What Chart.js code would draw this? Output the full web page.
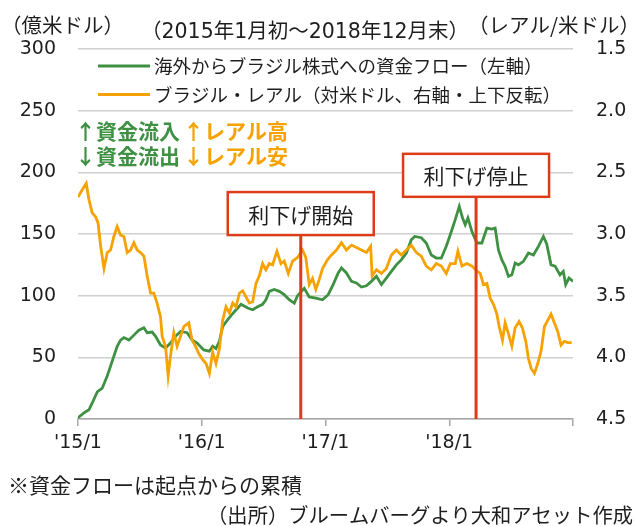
<!DOCTYPE html>
<html>
<head>
<meta charset="utf-8">
<script src="https://cdn.jsdelivr.net/npm/chart.js@4.4.1/dist/chart.umd.min.js"></script>
<style>
  html, body { margin: 0; padding: 0; background: #fff; }
  #wrap { width: 635px; height: 526px; position: relative; }
</style>
</head>
<body>
<div id="wrap"><canvas id="chart" width="635" height="526"></canvas></div>
<script>
'use strict'

// x values are months elapsed since the start of Jan 2015
const flowMonths = [0, 0.58, 1.06, 1.38, 1.87, 2.35, 2.84, 3.16, 3.48, 3.8, 4.13, 4.45, 4.94, 5.42, 5.9, 6.39, 6.71, 7.19, 7.52, 8.0, 8.49, 8.97, 9.45, 9.94, 10.58, 11.06, 11.55, 12.19, 12.74, 13.06, 13.38, 13.71, 14.03, 14.52, 15.16, 15.81, 16.45, 16.94, 17.42, 17.9, 18.22, 18.55, 19.03, 19.52, 20.0, 20.48, 20.97, 21.29, 21.94, 22.42, 23.06, 23.71, 24.26, 24.74, 25.23, 25.55, 26.03, 26.52, 27.0, 27.48, 27.97, 28.45, 28.94, 29.42, 29.9, 30.39, 30.87, 31.35, 31.84, 32.32, 32.65, 33.29, 33.77, 34.26, 34.74, 35.23, 35.71, 36.1, 36.58, 36.97, 37.29, 37.55, 37.81, 38.2, 38.68, 39.16, 39.65, 40.13, 40.45, 40.77, 41.1, 41.42, 41.74, 42.07, 42.39, 42.71, 43.19, 43.68, 44.16, 44.65, 45.13, 45.45, 45.87, 46.26, 46.74, 47.06, 47.29, 47.61, 48.0]
const flowValues = [1, 5, 7.5, 13, 22, 25, 35, 43, 51, 59, 64, 66, 64, 68, 72, 74, 70, 70.5, 67, 60, 57.5, 61.6, 67, 71, 70, 64, 61.6, 56, 55, 59, 57, 63, 75, 80.5, 87, 93, 90, 88.6, 91, 93, 96.7, 103.5, 105, 103.5, 100.8, 96.7, 94, 100, 106, 99, 98, 96.7, 100.8, 109, 118.4, 122.4, 118.4, 111.6, 110.3, 107, 108, 111.6, 115.7, 109, 114.3, 119.7, 125, 129, 134.6, 145.4, 148, 147, 142.7, 133, 130.5, 130.5, 140, 149.4, 161.6, 172.4, 163, 157.5, 163, 152, 142.7, 142.7, 154.8, 154, 154.8, 137, 129, 123.7, 115.6, 116.9, 126.5, 125, 127.8, 134.6, 133, 140, 148, 142, 125, 124, 116.9, 119.7, 109, 114.3, 111.6]

const brlMonths = [0, 0.42, 0.8, 1.06, 1.38, 1.71, 1.94, 2.2, 2.52, 2.84, 3.16, 3.48, 3.8, 4.13, 4.45, 4.77, 5.1, 5.42, 5.74, 6.07, 6.39, 6.71, 7.04, 7.35, 7.67, 8.0, 8.16, 8.49, 8.74, 8.97, 9.29, 9.61, 9.94, 10.26, 10.74, 11.06, 11.39, 11.71, 12.1, 12.42, 12.74, 13.06, 13.38, 13.71, 14.03, 14.35, 14.68, 15.0, 15.32, 15.65, 15.97, 16.29, 16.62, 16.94, 17.26, 17.58, 17.9, 18.22, 18.55, 18.87, 19.29, 19.68, 20.0, 20.39, 20.81, 21.29, 21.77, 22.09, 22.42, 22.74, 23.06, 23.39, 23.71, 24.19, 24.58, 25.06, 25.55, 26.03, 26.52, 27.0, 27.48, 27.97, 28.38, 28.52, 28.94, 29.42, 29.9, 30.39, 30.87, 31.35, 31.84, 32.32, 32.81, 33.29, 33.77, 34.26, 34.74, 35.23, 35.71, 36.1, 36.58, 36.84, 37.23, 37.71, 38.2, 38.68, 39.0, 39.32, 39.65, 39.97, 40.29, 40.62, 40.84, 41.16, 41.42, 41.74, 42.07, 42.39, 42.77, 43.09, 43.42, 43.68, 43.94, 44.26, 44.58, 44.9, 45.23, 45.55, 45.87, 46.19, 46.52, 46.84, 47.16, 47.48, 47.87]
const brlValues = [2.70, 2.64, 2.59, 2.72, 2.83, 2.86, 2.91, 3.10, 3.28, 3.15, 3.13, 3.02, 2.94, 3.01, 3.02, 3.15, 3.13, 3.07, 3.13, 3.15, 3.18, 3.34, 3.48, 3.48, 3.56, 3.67, 3.83, 3.91, 4.15, 3.99, 3.80, 3.91, 3.83, 3.75, 3.72, 3.86, 3.91, 3.97, 4.02, 4.05, 4.13, 3.96, 4.05, 3.93, 3.70, 3.59, 3.64, 3.56, 3.59, 3.48, 3.46, 3.51, 3.56, 3.55, 3.40, 3.34, 3.24, 3.29, 3.24, 3.25, 3.14, 3.24, 3.22, 3.32, 3.22, 3.19, 3.13, 3.19, 3.41, 3.36, 3.45, 3.37, 3.28, 3.21, 3.17, 3.13, 3.07, 3.13, 3.09, 3.11, 3.13, 3.15, 3.10, 3.34, 3.29, 3.32, 3.28, 3.17, 3.13, 3.17, 3.13, 3.09, 3.15, 3.18, 3.26, 3.29, 3.24, 3.26, 3.32, 3.24, 3.24, 3.14, 3.26, 3.24, 3.26, 3.30, 3.32, 3.41, 3.40, 3.52, 3.57, 3.65, 3.75, 3.86, 3.72, 3.81, 3.91, 3.76, 3.71, 3.76, 3.87, 4.01, 4.09, 4.13, 4.05, 3.95, 3.75, 3.70, 3.65, 3.72, 3.79, 3.90, 3.87, 3.88, 3.88]

const xTickLabels = ["'15/1", "'16/1", "'17/1", "'18/1", '']
const eventMonths = [21.6, 38.6]
const eventLabels = ['利下げ開始', '利下げ停止']

const GREEN = '#3e9142'
const ORANGE = '#f5a202'
const RED = '#dc3c18'
const TEXT = '#1e1e1e'
const NUM_FONT = '"DejaVu Sans", "Noto Sans CJK JP", sans-serif'
const JP_FONT = '"Noto Sans CJK JP", sans-serif'

function toPoints (xs, ys) {
  return xs.map((x, i) => ({ x, y: ys[i] }))
}

const decor = {
  id: 'decor',
  afterDatasetsDraw (chart) {
    const { ctx, chartArea } = chart
    const xs = chart.scales.x
    const ys = chart.scales.y
    // event markers: red line up to a labelled box
    const boxTops = [184, 215]
    ctx.save()
    eventMonths.forEach((m, i) => {
      const px = xs.getPixelForValue(m)
      const top = ys.getPixelForValue(boxTops[i])
      const w = 146
      const h = 43
      ctx.strokeStyle = RED
      ctx.lineWidth = 3
      ctx.beginPath()
      ctx.moveTo(px, top + h)
      ctx.lineTo(px, chartArea.bottom)
      ctx.stroke()
      ctx.fillStyle = '#fff'
      ctx.fillRect(px - w / 2, top, w, h)
      ctx.lineWidth = 2.5
      ctx.strokeRect(px - w / 2, top, w, h)
      ctx.fillStyle = TEXT
      ctx.font = '21px ' + JP_FONT
      ctx.textAlign = 'center'
      ctx.textBaseline = 'middle'
      ctx.fillText(eventLabels[i], px, top + h / 2 + 1)
    })
    ctx.restore()
  },
  afterDraw (chart) {
    const { ctx } = chart
    ctx.save()
    ctx.textBaseline = 'middle'
    ctx.fillStyle = TEXT

    ctx.font = '20.5px ' + JP_FONT
    ctx.textAlign = 'left'
    ctx.fillText('（億米ドル）', 1, 25)
    ctx.textAlign = 'right'
    ctx.fillText('（レアル/米ドル）', 640, 25)
    ctx.font = '20.5px ' + NUM_FONT
    ctx.textAlign = 'center'
    ctx.fillText('（2015年1月初～2018年12月末）', 305, 33)

    // legend
    const rows = [66, 94.5]
    ctx.font = '18.5px ' + JP_FONT
    ctx.textAlign = 'left'
    chart.data.datasets.slice().reverse().forEach((ds, i) => {
      ctx.strokeStyle = ds.borderColor
      ctx.lineWidth = 3
      ctx.beginPath()
      ctx.moveTo(98, rows[i])
      ctx.lineTo(150, rows[i])
      ctx.stroke()
      ctx.fillStyle = TEXT
      ctx.fillText(ds.label, 154, rows[i])
    })

    // direction hints
    ctx.font = 'bold 21px ' + JP_FONT
    ctx.fillStyle = GREEN
    ctx.fillText('↑資金流入', 75, 131)
    ctx.fillText('↓資金流出', 75, 156)
    ctx.fillStyle = ORANGE
    ctx.fillText('↑レアル高', 183, 131)
    ctx.fillText('↓レアル安', 183, 156)

    // notes
    ctx.fillStyle = TEXT
    ctx.font = '21px ' + JP_FONT
    ctx.fillText('※資金フローは起点からの累積', 8, 485)
    ctx.font = '20.3px ' + JP_FONT
    ctx.textAlign = 'right'
    ctx.fillText('（出所）ブルームバーグより大和アセット作成', 633, 515)
    ctx.restore()
  }
}

new Chart(document.getElementById('chart'), {
  type: 'line',
  data: {
    datasets: [
      {
        label: 'ブラジル・レアル（対米ドル、右軸・上下反転）',
        data: toPoints(brlMonths, brlValues),
        yAxisID: 'y2',
        borderColor: ORANGE,
        borderWidth: 2.8,
        pointRadius: 0,
        tension: 0
      },
      {
        label: '海外からブラジル株式への資金フロー（左軸）',
        data: toPoints(flowMonths, flowValues),
        yAxisID: 'y',
        borderColor: GREEN,
        borderWidth: 2.8,
        pointRadius: 0,
        tension: 0
      }
    ]
  },
  options: {
    responsive: false,
    animation: false,
    devicePixelRatio: 1,
    layout: { padding: { top: 49, left: 0, right: 0, bottom: 0 } },
    plugins: {
      legend: { display: false },
      tooltip: { enabled: false }
    },
    scales: {
      x: {
        type: 'linear',
        min: 0,
        max: 48,
        afterFit: (scale) => { scale.height = 107 },
        border: { color: '#a6a6a6', width: 1.5 },
        grid: { drawOnChartArea: false, drawTicks: true, tickLength: 7, color: '#a6a6a6', lineWidth: 1.5 },
        ticks: {
          stepSize: 12,
          autoSkip: false,
          maxRotation: 0,
          padding: 6,
          color: TEXT,
          font: { family: NUM_FONT, size: 19 },
          callback: (v) => xTickLabels[v / 12]
        }
      },
      y: {
        position: 'left',
        min: 0,
        max: 300,
        afterFit: (scale) => { scale.width = 78 },
        border: { display: false },
        grid: { color: '#d0d0d0', lineWidth: 1.5, drawTicks: false },
        ticks: {
          stepSize: 50,
          padding: 22,
          color: TEXT,
          font: { family: NUM_FONT, size: 19 }
        }
      },
      y2: {
        position: 'right',
        min: 1.5,
        max: 4.5,
        reverse: true,
        afterFit: (scale) => { scale.width = 62 },
        border: { display: false },
        grid: { display: false, drawTicks: false },
        ticks: {
          stepSize: 0.5,
          padding: 23,
          color: TEXT,
          font: { family: NUM_FONT, size: 19 },
          callback: (v) => v.toFixed(1)
        }
      }
    }
  },
  plugins: [decor]
})
</script>
</body>
</html>
